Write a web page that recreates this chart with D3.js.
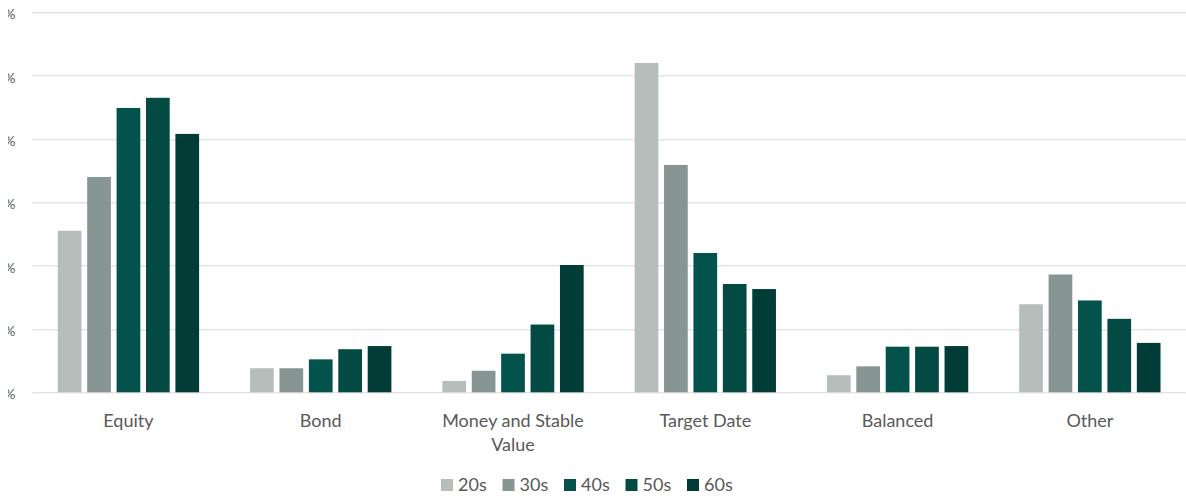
<!DOCTYPE html>
<html>
<head>
<meta charset="utf-8">
<script src="https://cdn.jsdelivr.net/npm/d3@7"></script>
<style>
  html, body { margin: 0; padding: 0; background: #fff; }
  svg { display: block; font-family: Lato, "Open Sans", sans-serif; }
</style>
</head>
<body>
<div id="chart"></div>
<script>
  // Chart data (percent of assets)
  var categories = ["Equity", "Bond", "Money and Stable Value", "Target Date", "Balanced", "Other"];
  var series = ["20s", "30s", "40s", "50s", "60s"];
  var values20s = [25.5, 3.8, 1.8, 52.0, 2.7, 13.9];
  var values30s = [34.0, 3.8, 3.4, 35.9, 4.1, 18.6];
  var values40s = [44.9, 5.2, 6.1, 22.0, 7.2, 14.5];
  var values50s = [46.5, 6.8, 10.7, 17.1, 7.2, 11.6];
  var values60s = [40.8, 7.3, 20.1, 16.3, 7.3, 7.8];
  var yTicks = [0, 10, 20, 30, 40, 50, 60];
  var colors = ["#b6bebb", "#879593", "#03524c", "#034a43", "#023c37"];

  var seriesValues = [values20s, values30s, values40s, values50s, values60s];

  var width = 1186, height = 497;
  var margin = {top: 12.3, right: 0, bottom: 104.7, left: 32.3};
  var plotW = width - margin.left - margin.right;
  var plotH = height - margin.top - margin.bottom;

  var svg = d3.select("#chart").append("svg")
    .attr("width", width)
    .attr("height", height);

  // The source picture is cropped so only the tail of each "%" shows
  svg.append("defs").append("clipPath")
    .attr("id", "ycrop")
    .append("rect")
    .attr("x", 8).attr("y", 0)
    .attr("width", 30).attr("height", height);

  var g = svg.append("g")
    .attr("transform", "translate(" + margin.left + "," + margin.top + ")");

  var y = d3.scaleLinear().domain([0, 60]).range([plotH, 0]);

  var x0 = d3.scaleBand().domain(categories).range([0, plotW])
    .paddingInner(0.265).paddingOuter(0.1325);

  var x1 = d3.scaleBand().domain(series).range([0, x0.bandwidth()])
    .paddingInner(0.194).paddingOuter(0);

  // Gridlines
  g.selectAll(".grid")
    .data(yTicks)
    .enter().append("line")
    .attr("class", "grid")
    .attr("x1", 0)
    .attr("x2", plotW)
    .attr("y1", function(d) { return Math.round(y(d)) + 0.5; })
    .attr("y2", function(d) { return Math.round(y(d)) + 0.5; })
    .attr("stroke", "#d9d9d9")
    .attr("stroke-width", 1);

  // Y tick labels
  svg.append("g")
    .attr("clip-path", "url(#ycrop)")
    .selectAll(".ylab")
    .data(yTicks)
    .enter().append("text")
    .attr("class", "ylab")
    .attr("x", 15.5)
    .attr("y", function(d) { return margin.top + y(d) + 2; })
    .attr("dy", "0.35em")
    .attr("text-anchor", "end")
    .attr("fill", "#595959")
    .style("font-size", "14px")
    .text(function(d) { return d + "%"; });

  // Bars
  var groups = g.selectAll(".cat")
    .data(categories)
    .enter().append("g")
    .attr("class", "cat")
    .attr("transform", function(d) { return "translate(" + x0(d) + ",0)"; });

  groups.selectAll("rect")
    .data(function(d, i) {
      return series.map(function(s, j) { return {series: s, index: j, value: seriesValues[j][i]}; });
    })
    .enter().append("rect")
    .attr("x", function(d) { return x1(d.series); })
    .attr("y", function(d) { return y(d.value); })
    .attr("width", x1.bandwidth())
    .attr("height", function(d) { return y(0) - y(d.value); })
    .attr("fill", function(d) { return colors[d.index]; });

  // Category labels
  var catLabels = svg.selectAll(".xlab")
    .data(categories)
    .enter().append("text")
    .attr("class", "xlab")
    .attr("text-anchor", "middle")
    .attr("fill", "#595959")
    .style("font-size", "18px")
    .attr("x", function(d) { return margin.left + x0(d) + x0.bandwidth() / 2; })
    .attr("y", 426.5);

  catLabels.each(function(d) {
    var t = d3.select(this);
    var lines = d === "Money and Stable Value" ? ["Money and Stable", "Value"] : [d];
    lines.forEach(function(line, k) {
      t.append("tspan")
        .attr("x", t.attr("x"))
        .attr("dy", k === 0 ? 0 : 24.5)
        .text(line);
    });
  });

  // Legend
  var legendStep = 61.5;
  var legend = svg.append("g")
    .attr("transform", "translate(441,479)");

  var item = legend.selectAll(".leg")
    .data(series)
    .enter().append("g")
    .attr("class", "leg")
    .attr("transform", function(d, i) { return "translate(" + (i * legendStep) + ",0)"; });

  item.append("rect")
    .attr("width", 12)
    .attr("height", 12)
    .attr("fill", function(d, i) { return colors[i]; });

  item.append("text")
    .attr("x", 17)
    .attr("y", 12)
    .attr("fill", "#595959")
    .style("font-size", "18px")
    .text(function(d) { return d; });
</script>
</body>
</html>
